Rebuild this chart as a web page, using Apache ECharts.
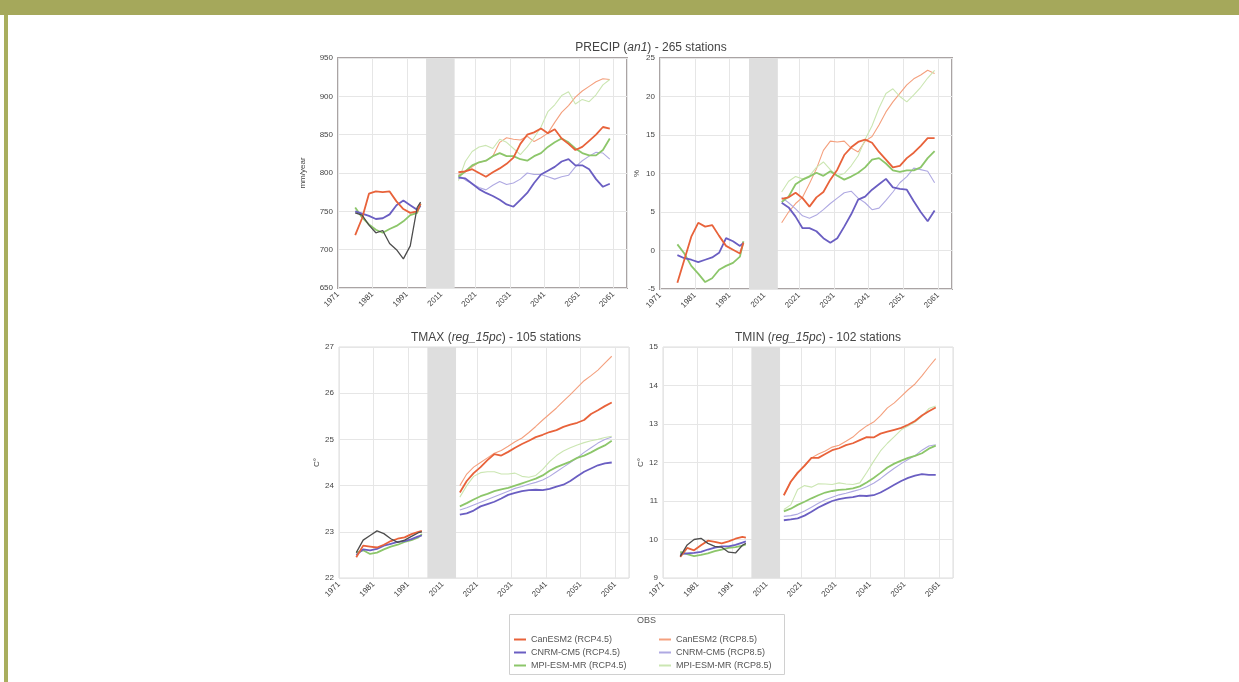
<!DOCTYPE html>
<html>
<head>
<meta charset="utf-8">
<script src="https://cdn.jsdelivr.net/npm/echarts@6/dist/echarts.min.js"></script>
<style>
html,body{margin:0;padding:0;background:#fff;}
#wrap{position:relative;width:1239px;height:682px;overflow:hidden;background:#fff;}
#topbar{position:absolute;left:0;top:0;width:1239px;height:15px;background:#A5A85B;}
#leftbar{position:absolute;left:4px;top:15px;width:4px;height:667px;background:#A9AE5E;}
#chart{position:absolute;left:0;top:0;width:1239px;height:682px;}
</style>
</head>
<body>
<div id="wrap"><div id="topbar"></div><div id="leftbar"></div><div id="chart"></div></div>
<script>
// ---------- tick labels / positions ----------
const xTickLabels = ['1971','1981','1991','2011','2021','2031','2041','2051','2061'];
const histIdx = [5,7,9,11,13,15,17,19,21,23,24];
const projIdx = [35,37,39,41,43,45,47,49,51,53,55,57,59,61,63,65,67,69,71,73,75,77,79];
const bandRange = [25.6, 33.9];

// ---------- PRECIP (mm/year) ----------
const precipObsHist  = [748,745,732,722,725,708,700,688,705,755,762];
const precipCanHist  = [719,741,773,776,775,776,763,753,748,750,760];
const precipCnrmHist = [750,747,744,740,741,746,758,764,758,752,757];
const precipMpiHist  = [755,742,733,726,722,727,731,737,745,748,760];
const precipCan45  = [801,802,805,800,795,801,806,812,820,838,850,853,858,852,857,845,838,830,834,842,850,860,858];
const precipCan85  = [797,803,808,814,816,822,840,846,844,843,848,841,846,852,866,879,888,899,907,913,919,923,922];
const precipCnrm45 = [794,793,786,779,774,770,765,759,756,765,774,787,798,803,808,815,818,810,810,805,792,782,786];
const precipCnrm85 = [797,791,786,781,778,784,789,785,787,792,800,798,798,795,792,795,797,808,816,822,827,826,818];
const precipMpi45  = [795,802,810,814,816,822,826,822,822,818,816,822,826,834,840,845,840,832,826,823,823,830,845];
const precipMpi85  = [790,815,828,834,836,832,844,840,832,824,834,846,860,880,889,901,906,890,896,893,902,915,922];

// ---------- PRECIP (%) ----------
const pctCanHist  = [-4.2,-1.2,1.8,3.6,3.1,3.3,1.9,0.6,0.1,-0.4,1.0];
const pctCnrmHist = [-0.6,-1.0,-1.2,-1.5,-1.2,-0.9,-0.3,1.6,1.2,0.6,1.0];
const pctMpiHist  = [0.8,-0.4,-2.0,-3.0,-4.1,-3.6,-2.5,-2.0,-1.6,-0.8,1.2];
const pctCan45  = [6.7,6.9,7.5,6.8,5.7,6.9,7.6,9.2,10.5,12.4,13.4,14.1,14.4,14.0,12.8,11.8,10.8,11.0,12.0,12.7,13.6,14.6,14.6];
const pctCan85  = [3.6,5.0,6.1,6.9,8.7,10.6,13.0,14.2,14.1,14.2,13.3,12.8,14.2,14.8,16.3,18.0,19.3,20.4,21.5,22.3,22.8,23.4,23.0];
const pctCnrm45 = [6.2,5.6,4.4,2.9,2.9,2.5,1.6,1.0,1.6,3.1,4.7,6.6,7.0,7.9,8.6,9.3,8.2,8.0,7.9,6.4,5.0,3.8,5.2];
const pctCnrm85 = [6.9,6.2,5.4,4.5,4.2,4.6,5.3,6.1,6.8,7.5,7.7,6.8,6.2,5.3,5.5,6.5,7.6,8.8,9.6,10.7,10.5,10.3,8.8];
const pctMpi45  = [6.3,7.0,8.6,9.2,9.6,10.1,9.7,10.3,9.7,9.2,9.6,10.1,10.8,11.8,12.0,11.3,10.4,10.2,10.4,10.4,10.8,12.0,12.9];
const pctMpi85  = [7.6,9.0,9.6,9.3,9.7,10.8,11.5,10.5,9.7,10.0,11.0,12.3,14.4,16.2,18.5,20.4,21.0,20.0,19.3,20.2,21.2,22.4,23.4];

// ---------- TMAX ----------
const tmaxObsHist  = [22.55,22.82,22.92,23.02,22.96,22.85,22.77,22.82,22.90,22.98,23.00];
const tmaxCanHist  = [22.45,22.70,22.68,22.66,22.72,22.80,22.85,22.88,22.95,23.00,23.02];
const tmaxCnrmHist = [22.50,22.62,22.60,22.63,22.70,22.74,22.78,22.80,22.84,22.90,22.92];
const tmaxMpiHist  = [22.55,22.60,22.52,22.55,22.62,22.68,22.72,22.78,22.82,22.88,22.95];
const tmaxCan45  = [23.85,24.10,24.27,24.40,24.55,24.68,24.65,24.73,24.82,24.90,24.97,25.05,25.10,25.16,25.20,25.27,25.32,25.36,25.42,25.55,25.63,25.72,25.80];
const tmaxCan85  = [24.00,24.25,24.40,24.50,24.60,24.70,24.76,24.85,24.95,25.03,25.15,25.28,25.42,25.55,25.68,25.83,25.97,26.12,26.27,26.38,26.50,26.65,26.80];
const tmaxCnrm45 = [23.37,23.40,23.46,23.55,23.60,23.65,23.72,23.80,23.84,23.88,23.90,23.91,23.90,23.93,23.98,24.02,24.10,24.20,24.30,24.37,24.44,24.48,24.50];
const tmaxCnrm85 = [23.47,23.52,23.58,23.64,23.70,23.76,23.82,23.88,23.94,23.98,24.03,24.07,24.12,24.20,24.30,24.40,24.50,24.60,24.72,24.82,24.92,25.00,25.05];
const tmaxMpi45  = [23.55,23.62,23.70,23.77,23.82,23.88,23.92,23.95,24.00,24.05,24.10,24.15,24.22,24.32,24.40,24.46,24.52,24.60,24.65,24.72,24.80,24.87,24.97];
const tmaxMpi85  = [23.75,24.00,24.20,24.28,24.30,24.30,24.25,24.25,24.27,24.20,24.18,24.22,24.35,24.52,24.65,24.75,24.82,24.88,24.93,24.97,25.00,25.04,25.07];

// ---------- TMIN ----------
const tminObsHist  = [9.56,9.86,10.00,10.03,9.90,9.82,9.80,9.67,9.65,9.85,9.90];
const tminCanHist  = [9.55,9.78,9.72,9.85,9.97,9.94,9.90,9.95,10.02,10.07,10.05];
const tminCnrmHist = [9.62,9.64,9.65,9.68,9.74,9.79,9.82,9.82,9.86,9.92,9.95];
const tminMpiHist  = [9.68,9.62,9.57,9.60,9.64,9.70,9.74,9.78,9.80,9.84,9.87];
const tminCan45  = [11.15,11.50,11.73,11.92,12.12,12.12,12.22,12.32,12.37,12.45,12.50,12.58,12.66,12.65,12.75,12.80,12.85,12.90,12.98,13.08,13.22,13.33,13.43];
const tminCan85  = [11.15,11.50,11.75,11.90,12.12,12.22,12.30,12.40,12.45,12.55,12.66,12.82,12.95,13.05,13.22,13.42,13.55,13.72,13.89,14.04,14.25,14.48,14.70];
const tminCnrm45 = [10.50,10.52,10.55,10.62,10.72,10.83,10.92,11.00,11.05,11.08,11.10,11.14,11.13,11.15,11.22,11.32,11.42,11.52,11.60,11.66,11.70,11.68,11.68];
const tminCnrm85 = [10.60,10.62,10.66,10.74,10.84,10.94,11.03,11.10,11.16,11.20,11.25,11.30,11.37,11.46,11.58,11.72,11.85,11.97,12.08,12.18,12.32,12.43,12.46];
const tminMpi45  = [10.73,10.80,10.90,10.98,11.07,11.15,11.22,11.26,11.29,11.30,11.33,11.38,11.48,11.60,11.73,11.87,11.97,12.05,12.12,12.17,12.24,12.36,12.44];
const tminMpi85  = [10.78,10.90,11.30,11.40,11.36,11.45,11.44,11.43,11.47,11.44,11.43,11.47,11.74,12.03,12.30,12.50,12.67,12.85,12.95,13.05,13.20,13.40,13.47];

// ---------- names / styles ----------
const NAMES = {
  obs:'OBS', can45:'CanESM2 (RCP4.5)', can85:'CanESM2 (RCP8.5)',
  cnrm45:'CNRM-CM5 (RCP4.5)', cnrm85:'CNRM-CM5 (RCP8.5)',
  mpi45:'MPI-ESM-MR (RCP4.5)', mpi85:'MPI-ESM-MR (RCP8.5)'
};
const STYLE = {
  obs:   {color:'#4d4d4d', width:1.3},
  can45: {color:'#E8623A', width:1.8},
  can85: {color:'#F4A07E', width:1.1},
  cnrm45:{color:'#6A5EC2', width:1.8},
  cnrm85:{color:'#AFA9E2', width:1.1},
  mpi45: {color:'#8CC66A', width:1.8},
  mpi85: {color:'#CBE6B2', width:1.1}
};

const panels = [
  {grid:{left:338, top:58, width:289, height:230}, border:'#aaa4a4', bw:2,
   y:{min:650,max:950,interval:50,name:'mm/year',gap:31},
   obs:precipObsHist, hist:{can:precipCanHist,cnrm:precipCnrmHist,mpi:precipMpiHist},
   proj:{can45:precipCan45,can85:precipCan85,cnrm45:precipCnrm45,cnrm85:precipCnrm85,mpi45:precipMpi45,mpi85:precipMpi85}},
  {grid:{left:660, top:58, width:292, height:231}, border:'#aaa4a4', bw:2,
   y:{min:-5,max:25,interval:5,name:'%',gap:19},
   obs:null, hist:{can:pctCanHist,cnrm:pctCnrmHist,mpi:pctMpiHist},
   proj:{can45:pctCan45,can85:pctCan85,cnrm45:pctCnrm45,cnrm85:pctCnrm85,mpi45:pctMpi45,mpi85:pctMpi85}},
  {grid:{left:339, top:347, width:290, height:231}, border:'#dcdcdc', bw:1,
   y:{min:22,max:27,interval:1,name:'C°',gap:17},
   obs:tmaxObsHist, hist:{can:tmaxCanHist,cnrm:tmaxCnrmHist,mpi:tmaxMpiHist},
   proj:{can45:tmaxCan45,can85:tmaxCan85,cnrm45:tmaxCnrm45,cnrm85:tmaxCnrm85,mpi45:tmaxMpi45,mpi85:tmaxMpi85}},
  {grid:{left:663, top:347, width:290, height:231}, border:'#dcdcdc', bw:1,
   y:{min:9,max:15,interval:1,name:'C°',gap:12},
   obs:tminObsHist, hist:{can:tminCanHist,cnrm:tminCnrmHist,mpi:tminMpiHist},
   proj:{can45:tminCan45,can85:tminCan85,cnrm45:tminCnrm45,cnrm85:tminCnrm85,mpi45:tminMpi45,mpi85:tminMpi85}}
];

const pts = (xs, ys) => xs.map((x,i)=>[x, ys[i]]);
const joined = (h, p) => (h ? pts(histIdx,h) : []).concat([[30,null]]).concat(pts(projIdx,p));

const grids=[], xAxes=[], yAxes=[], series=[];
panels.forEach((p,k)=>{
  grids.push(Object.assign({show:true, borderColor:p.border, borderWidth:p.bw, backgroundColor:'transparent'}, p.grid));
  xAxes.push({type:'value', gridIndex:k, min:0, max:84, interval:10,
    axisLine:{show:false}, axisTick:{show:false},
    splitLine:{show:true, lineStyle:{color:'#e6e6e6', width:1}},
    axisLabel:{rotate:45, fontSize:8, color:'#444', fontFamily:'Liberation Sans, Arial', margin:5,
      formatter:v => (v%10===0 && xTickLabels[v/10]) ? xTickLabels[v/10] : ''}});
  yAxes.push({type:'value', gridIndex:k, min:p.y.min, max:p.y.max, interval:p.y.interval,
    name:p.y.name, nameLocation:'middle', nameGap:p.y.gap, nameRotate:90,
    nameTextStyle:{fontSize:8, color:'#444', fontFamily:'Liberation Sans, Arial'},
    axisLine:{show:false}, axisTick:{show:false},
    splitLine:{show:true, lineStyle:{color:'#e6e6e6', width:1}},
    axisLabel:{fontSize:8, color:'#444', fontFamily:'Liberation Sans, Arial', margin:5}});
  const mk = (key, data, extra) => Object.assign({
    type:'line', name:NAMES[key], xAxisIndex:k, yAxisIndex:k, data:data,
    showSymbol:false, symbol:'none', connectNulls:false, animation:false,
    lineStyle:{color:STYLE[key].color, width:STYLE[key].width},
    itemStyle:{color:STYLE[key].color}
  }, extra||{});
  // band
  series.push({type:'line', name:'band'+k, xAxisIndex:k, yAxisIndex:k, data:[], silent:true, animation:false,
    markArea:{silent:true, itemStyle:{color:'#dedede'}, data:[[{xAxis:bandRange[0]},{xAxis:bandRange[1]}]]}});
  series.push(mk('can85', pts(projIdx,p.proj.can85)));
  series.push(mk('cnrm85', pts(projIdx,p.proj.cnrm85)));
  series.push(mk('mpi85', pts(projIdx,p.proj.mpi85)));
  series.push(mk('mpi45', joined(p.hist.mpi,p.proj.mpi45)));
  series.push(mk('cnrm45', joined(p.hist.cnrm,p.proj.cnrm45)));
  series.push(mk('can45', joined(p.hist.can,p.proj.can45)));
  series.push(mk('obs', p.obs ? pts(histIdx,p.obs) : []));
});

const titleFont = {fontSize:12, fontWeight:'normal', color:'#444', fontFamily:'Liberation Sans, Arial'};
const mkTitle = (pre, ital, post, x, y) => ({
  text:'{a|'+pre+'}{b|'+ital+'}{a|'+post+'}', left:x, top:y, textAlign:'center',
  textStyle:{fontWeight:'normal', rich:{a:titleFont, b:Object.assign({fontStyle:'italic'}, titleFont)}}
});

const legText = {fontSize:9, color:'#555', fontFamily:'Liberation Sans, Arial'};
const option = {
  backgroundColor:'transparent',
  animation:false,
  title:[
    mkTitle('PRECIP (','an1',') - 265 stations',646,37),
    mkTitle('TMAX (','reg_15pc',') - 105 stations',491,327),
    mkTitle('TMIN (','reg_15pc',') - 102 stations',813,327)
  ],
  grid:grids, xAxis:xAxes, yAxis:yAxes, series:series,
  legend:[
    {left:509, top:630, orient:'vertical', itemGap:4, itemWidth:12, itemHeight:2, icon:'rect',
     textStyle:legText, data:[NAMES.can45,NAMES.cnrm45,NAMES.mpi45]},
    {left:654, top:630, orient:'vertical', itemGap:4, itemWidth:12, itemHeight:2, icon:'rect',
     textStyle:legText, data:[NAMES.can85,NAMES.cnrm85,NAMES.mpi85]}
  ],
  graphic:[
    {type:'rect', left:507, top:612, shape:{width:275, height:60}, style:{fill:'none', stroke:'#d0d0d0', lineWidth:1}, silent:true},
    {type:'text', left:637, top:616, style:{text:'OBS', fill:'#555', font:'9px Liberation Sans, Arial'}, silent:true}
  ]
};
const chart = echarts.init(document.getElementById('chart'), null, {renderer:'canvas'});
chart.setOption(option);
</script>
</body>
</html>
